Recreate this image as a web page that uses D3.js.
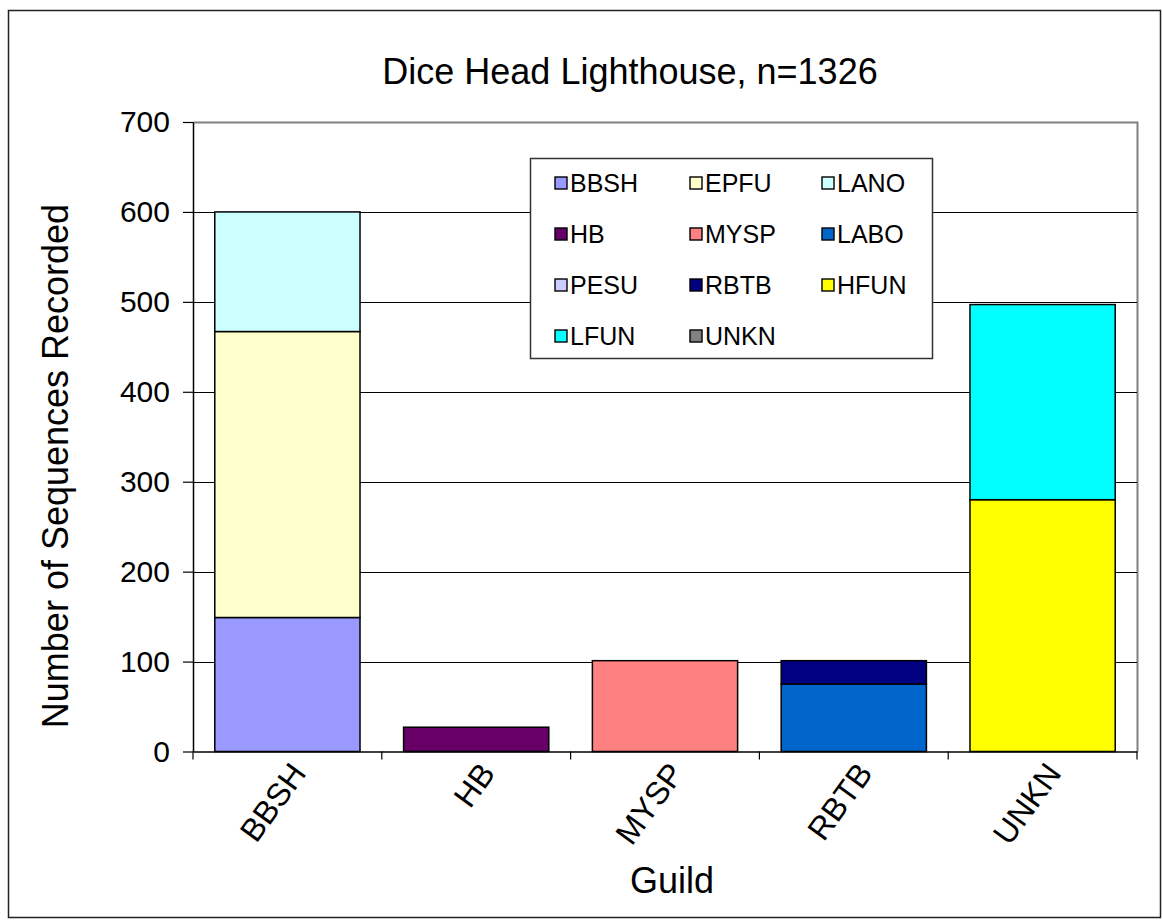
<!DOCTYPE html>
<html>
<head>
<meta charset="utf-8">
<script src="https://d3js.org/d3.v7.min.js"></script>
<style>
  body { margin: 0; background: #fff; }
  svg { font-family: "Liberation Sans", Arial, sans-serif; }
</style>
</head>
<body>
<svg width="1163" height="921"></svg>
<script>
// categories on the x axis
var guilds = ["BBSH", "HB", "MYSP", "RBTB", "UNKN"];
// series, in legend / stacking order
var series = ["BBSH", "EPFU", "LANO", "HB", "MYSP", "LABO", "PESU", "RBTB", "HFUN", "LFUN", "UNKN"];
var colors = ["#9999FF", "#FFFFCC", "#CCFFFF", "#660066", "#FF8080", "#0066CC", "#CCCCFF", "#000080", "#FFFF00", "#00FFFF", "#808080"];
// values per series, one per guild
var vBBSH = [149, 0, 0, 0, 0];
var vEPFU = [318, 0, 0, 0, 0];
var vLANO = [133, 0, 0, 0, 0];
var vHB   = [0, 27, 0, 0, 0];
var vMYSP = [0, 0, 101, 0, 0];
var vLABO = [0, 0, 0, 75, 0];
var vPESU = [0, 0, 0, 0, 0];
var vRBTB = [0, 0, 0, 26, 0];
var vHFUN = [0, 0, 0, 0, 280];
var vLFUN = [0, 0, 0, 0, 217];
var vUNKN = [0, 0, 0, 0, 0];
var yTicks = [0, 100, 200, 300, 400, 500, 600, 700];

var values = [vBBSH, vEPFU, vLANO, vHB, vMYSP, vLABO, vPESU, vRBTB, vHFUN, vLFUN, vUNKN];
var rows = guilds.map(function (g, i) {
    var r = { guild: g };
    series.forEach(function (s, j) { r[s] = values[j][i]; });
    return r;
});

var svg = d3.select("svg");
var pLeft = 193, pRight = 1137, pTop = 122, pBottom = 751.5;

// outer chart border
svg.append("rect").attr("x", 8.5).attr("y", 10.5).attr("width", 1152).attr("height", 907)
    .attr("fill", "#fff").attr("stroke", "#222").attr("stroke-width", 1.5);

var xs = d3.scaleBand().domain(guilds).range([pLeft, pRight]).padding(0);
var ys = d3.scaleLinear().domain([0, 700]).range([pBottom, pTop]);

// plot border (gray top and right)
svg.append("path")
    .attr("d", "M" + pLeft + "," + (pTop + 0.5) + "H" + (pRight + 0.5) + "V" + pBottom)
    .attr("fill", "none").attr("stroke", "#808080").attr("stroke-width", 2);

// gridlines
svg.append("g").selectAll("line").data(yTicks.filter(function (d) { return d > 0 && d < 700; }))
    .enter().append("line")
    .attr("x1", pLeft).attr("x2", pRight)
    .attr("y1", function (d) { return Math.round(ys(d)) + 0.5; })
    .attr("y2", function (d) { return Math.round(ys(d)) + 0.5; })
    .attr("stroke", "#000").attr("stroke-width", 1);

// stacked bars
var stack = d3.stack().keys(series)(rows);
var barW = xs.bandwidth() / 1.3;
svg.append("g").selectAll("g").data(stack).enter().append("g")
    .attr("fill", function (d, i) { return colors[i]; })
    .selectAll("rect").data(function (d) { return d.filter(function (p) { return p[1] - p[0] > 0; }); })
    .enter().append("rect")
    .attr("x", function (d) { return xs(d.data.guild) + (xs.bandwidth() - barW) / 2; })
    .attr("y", function (d) { return ys(d[1]); })
    .attr("width", barW)
    .attr("height", function (d) { return ys(d[0]) - ys(d[1]); })
    .attr("stroke", "#000").attr("stroke-width", 1.5);

// y axis
var yAxis = svg.append("g").attr("transform", "translate(" + pLeft + ",0)")
    .call(d3.axisLeft(ys).tickValues(yTicks).tickSize(10).tickPadding(13).tickSizeOuter(0));
yAxis.select(".domain").attr("stroke", "#000").attr("stroke-width", 1.5);
yAxis.selectAll(".tick line").attr("stroke", "#000").attr("stroke-width", 1.2);
yAxis.selectAll("text").attr("font-size", 30).attr("fill", "#000");

// x axis
var xAxis = svg.append("g").attr("transform", "translate(0," + pBottom + ")")
    .call(d3.axisBottom(xs).tickSize(0).tickFormat(""));
xAxis.select(".domain").attr("stroke", "#000").attr("stroke-width", 1.5);
svg.append("g").selectAll("line").data(d3.range(guilds.length + 1)).enter().append("line")
    .attr("x1", function (i) { return pLeft + i * xs.step(); })
    .attr("x2", function (i) { return pLeft + i * xs.step(); })
    .attr("y1", pBottom).attr("y2", pBottom + 8)
    .attr("stroke", "#000").attr("stroke-width", 1.2);
svg.append("g").selectAll("text").data(guilds).enter().append("text")
    .attr("transform", function (d) {
        return "translate(" + (xs(d) + xs.bandwidth() / 2 + 20) + "," + (pBottom + 22) + ") rotate(-54)";
    })
    .attr("text-anchor", "end")
    .attr("font-size", 32)
    .text(function (d) { return d; });

// titles
svg.append("text").attr("x", 630).attr("y", 84).attr("text-anchor", "middle")
    .attr("font-size", 36).text("Dice Head Lighthouse, n=1326");
svg.append("text").attr("transform", "translate(68,466) rotate(-90)").attr("text-anchor", "middle")
    .attr("font-size", 36).text("Number of Sequences Recorded");
svg.append("text").attr("x", 672).attr("y", 893).attr("text-anchor", "middle")
    .attr("font-size", 36).text("Guild");

// legend
var lg = svg.append("g");
lg.append("rect").attr("x", 530.5).attr("y", 158.5).attr("width", 402).attr("height", 200)
    .attr("fill", "#fff").attr("stroke", "#333").attr("stroke-width", 1.5);
var colX = [555, 690, 822];
var item = lg.selectAll("g.item").data(series).enter().append("g")
    .attr("transform", function (d, i) {
        return "translate(" + colX[i % 3] + "," + (183 + Math.floor(i / 3) * 51) + ")";
    });
item.append("rect").attr("x", 0).attr("y", -6).attr("width", 12).attr("height", 12)
    .attr("fill", function (d, i) { return colors[i]; })
    .attr("stroke", "#000").attr("stroke-width", 1.4);
item.append("text").attr("x", 15).attr("y", 9).attr("font-size", 25).text(function (d) { return d; });
</script>
</body>
</html>
